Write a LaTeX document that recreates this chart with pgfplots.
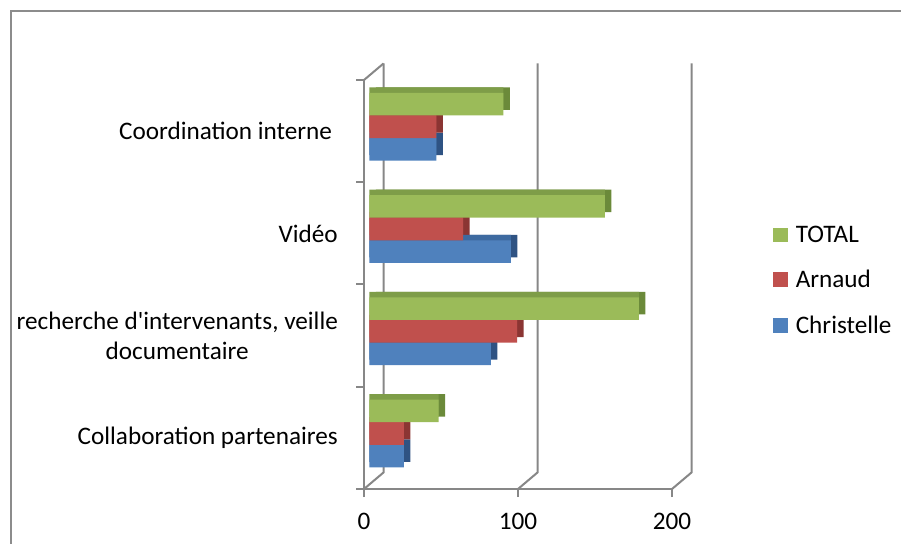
\documentclass[border=0pt]{standalone}
\usepackage{fontspec}
\setmainfont{Carlito}
\usepackage{pgfplots}
\pgfplotsset{compat=1.18}
\usepackage{pgfplotstable}
\definecolor{axgray}{HTML}{878787}
\definecolor{bordergray}{HTML}{8C8C8C}
\definecolor{gfront}{HTML}{9BBB59}
\definecolor{gtop}{HTML}{7E9D48}
\definecolor{gside}{HTML}{6B8A3A}
\definecolor{rfront}{HTML}{C0504D}
\definecolor{rtop}{HTML}{A03F3C}
\definecolor{rside}{HTML}{8B3533}
\definecolor{bfront}{HTML}{4F81BD}
\definecolor{btop}{HTML}{3E6AA0}
\definecolor{bside}{HTML}{2F5383}
\newcommand{\chartfont}{\fontsize{25.3}{30.5}\selectfont}
\pgfplotstableread{
pos christelle arnaud total
0.5 22.5 22.5 45
1.5 79 96 175
2.5 92 61 153
3.5 43.5 43.5 87
}\datatable
\pgfplotsset{
  baraxis/.style={anchor=south west, scale only axis, width=308bp, height=409bp,
    xmin=0, xmax=200, ymin=0, ymax=4, hide axis, xbar, bar width=22.6bp, clip=false},
}
\begin{document}
\begin{tikzpicture}
\useasboundingbox (0,0) rectangle (901bp,544bp);
% chart border
\draw[bordergray, line width=2.3bp] (11bp,0) -- (11bp,533bp) -- (901bp,533bp);
% frame axis
\begin{axis}[
  at={(364bp,55bp)}, anchor=south west, scale only axis, width=308bp, height=409bp,
  xmin=0, xmax=200, ymin=0, ymax=4,
  axis lines*=left,
  axis line style={draw=axgray, line width=2bp},
  tick align=outside,
  major tick length=8bp,
  xtick style={draw=axgray, line width=2bp},
  ytick style={draw=none},
  xtick={0,100,200}, xticklabels={0,100,200},
  ytick={0.5,1.5,2.5,3.5},
  yticklabels={Collaboration partenaires, {recherche d\textquotesingle intervenants, veille\\documentaire}, Vidéo, Coordination interne\rule{0.23em}{0pt}},
  yticklabel style={font=\chartfont, align=center, inner sep=0pt, anchor=east, xshift=-18bp},
  xticklabel style={font=\chartfont, inner sep=0pt, anchor=north, yshift=-16bp},
  clip=false,
]
\pgfplotsinvokeforeach{0,1,2,3,4}{\draw[axgray, line width=2bp] (axis cs:0,#1) -- ++(-8bp,0);}
\pgfplotsinvokeforeach{0,100,200}{
  \draw[axgray, line width=2bp] (axis cs:#1,0) -- ([xshift=19.5bp,yshift=16.5bp]axis cs:#1,0) -- ([xshift=19.5bp,yshift=16.5bp]axis cs:#1,4);
}
\draw[axgray, line width=2bp] (axis cs:0,4) -- ([xshift=19.5bp,yshift=16.5bp]axis cs:0,4);
\end{axis}
% side faces
\begin{axis}[baraxis, at={(375.8bp,64.9bp)}]
\addplot[fill=bside, draw=none, bar shift=-22.6bp] table[x=christelle, y=pos]{\datatable};
\addplot[fill=rside, draw=none, bar shift=0bp] table[x=arnaud, y=pos]{\datatable};
\addplot[fill=gside, draw=none, bar shift=22.6bp] table[x=total, y=pos]{\datatable};
\end{axis}
% top faces
\begin{axis}[baraxis, at={(369.3bp,64.9bp)}]
\addplot[fill=btop, draw=none, bar shift=-22.6bp] table[x=christelle, y=pos]{\datatable};
\addplot[fill=rtop, draw=none, bar shift=0bp] table[x=arnaud, y=pos]{\datatable};
\addplot[fill=gtop, draw=none, bar shift=22.6bp] table[x=total, y=pos]{\datatable};
\end{axis}
% front faces
\begin{axis}[baraxis, at={(369.3bp,59.4bp)},
  legend style={at={(axis description cs:1.3107,0.5)}, anchor=west, draw=none, fill=none,
    font=\chartfont, row sep=22.5bp, inner sep=0pt, column sep=6.5bp},
  legend cell align=left]
\addplot[fill=bfront, draw=none, bar shift=-22.6bp, forget plot] table[x=christelle, y=pos]{\datatable};
\addplot[fill=rfront, draw=none, bar shift=0bp, forget plot] table[x=arnaud, y=pos]{\datatable};
\addplot[fill=gfront, draw=none, bar shift=22.6bp, forget plot] table[x=total, y=pos]{\datatable};
\addlegendimage{legend image code/.code={\fill[gfront] (0bp,-6.85bp) rectangle (13.7bp,6.85bp);}}
\addlegendentry{TOTAL}
\addlegendimage{legend image code/.code={\fill[rfront] (0bp,-6.85bp) rectangle (13.7bp,6.85bp);}}
\addlegendentry{Arnaud}
\addlegendimage{legend image code/.code={\fill[bfront] (0bp,-6.85bp) rectangle (13.7bp,6.85bp);}}
\addlegendentry{Christelle}
\end{axis}
\end{tikzpicture}
\end{document}
